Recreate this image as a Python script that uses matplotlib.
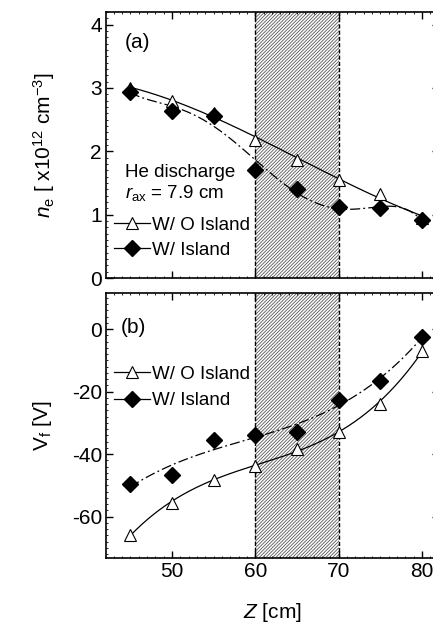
import matplotlib
matplotlib.use('Agg')
import matplotlib.pyplot as plt
import numpy as np

plt.rcParams['font.family'] = ['Liberation Sans', 'DejaVu Sans']
plt.rcParams['mathtext.fontset'] = 'custom'
plt.rcParams['mathtext.rm'] = 'Liberation Sans'
plt.rcParams['mathtext.it'] = 'Liberation Sans:italic'
plt.rcParams['hatch.linewidth'] = 0.6
plt.rcParams['axes.unicode_minus'] = False

# axial position [cm]
z = [45, 50, 55, 60, 65, 70, 75, 80]

# electron density [x10^12 cm^-3]
ne_wo_island = [3.0, 2.8, 2.61, 2.18, 1.87, 1.55, 1.33, 0.95]
ne_w_island = [2.94, 2.64, 2.55, 1.71, 1.40, 1.12, 1.10, 0.91]

# floating potential [V]
vf_wo_island = [-65.8, -55.6, -48.2, -43.8, -38.3, -32.8, -24.0, -6.9]
vf_w_island = [-49.5, -46.8, -35.6, -34.0, -33.0, -22.6, -16.5, -2.5]

island_region = (60, 70)

FS = 15


def fit_curve(x, y, deg):
    coef = np.polyfit(x, y, deg)
    xs = np.linspace(min(x), max(x), 200)
    return xs, np.polyval(coef, xs)


def style_axes(ax):
    ax.tick_params(which='major', direction='in', length=5, width=1,
                   top=True, right=True, labelsize=FS, pad=3)
    ax.tick_params(which='minor', direction='in', length=1.5, width=0.6,
                   top=True, right=True)
    ax.xaxis.set_minor_locator(matplotlib.ticker.MultipleLocator(1))
    for s in ax.spines.values():
        s.set_linewidth(1.2)
    ax.axvspan(*island_region, facecolor='white', edgecolor='0.35',
               hatch='//////////', linewidth=0, zorder=0)
    for xv in island_region:
        ax.axvline(xv, color='black', linestyle=(0, (3, 1.5)), linewidth=1, zorder=1)


fig = plt.figure(figsize=(4.33, 6.25), dpi=100)
ax1 = fig.add_axes([0.245, 0.555, 0.768, 0.426])
ax2 = fig.add_axes([0.245, 0.108, 0.768, 0.423])

# (a) density
style_axes(ax1)
xs, ys = fit_curve(z, ne_wo_island, 3)
ax1.plot(xs, ys, color='black', linewidth=0.9, zorder=2)
xs, ys = fit_curve(z, ne_w_island, 5)
ax1.plot(xs, ys, color='black', linewidth=0.9, linestyle=(0, (8, 2.5, 1.5, 2.5)), zorder=2)
ax1.plot(z, ne_wo_island, linestyle='none', marker='^', markersize=9,
         markerfacecolor='white', markeredgecolor='black', markeredgewidth=0.8, zorder=3)
ax1.plot(z, ne_w_island, linestyle='none', marker='D', markersize=8,
         color='black', zorder=3)
ax1.set_xlim(42.1, 82.0)
ax1.set_ylim(0, 4.2)
ax1.set_yticks([0, 1, 2, 3, 4])
ax1.set_xticks([50, 60, 70, 80])
ax1.tick_params(labelbottom=False)
ax1.yaxis.set_minor_locator(matplotlib.ticker.MultipleLocator(0.1))
ax1.set_ylabel(r'$n_{\mathrm{e}}$ [ x10$^{12}$ cm$^{-3}$]', fontsize=FS, labelpad=24)
ax1.text(0.055, 0.885, '(a)', transform=ax1.transAxes, fontsize=FS, va='center')
ax1.text(0.057, 0.395, 'He discharge', transform=ax1.transAxes, fontsize=13.5, va='center')
ax1.text(0.057, 0.318, r'$r_{\mathrm{ax}}$ = 7.9 cm', transform=ax1.transAxes, fontsize=13.5, va='center')
h1, = ax1.plot([], [], color='black', linewidth=0.9, marker='^', markersize=9,
               markerfacecolor='white', markeredgecolor='black', markeredgewidth=0.8)
h2, = ax1.plot([], [], color='black', linewidth=0.9, marker='D', markersize=8)
ax1.legend([h1, h2], ['W/ O Island', 'W/ Island'], loc='upper left',
           bbox_to_anchor=(0.025, 0.23), frameon=False, fontsize=13.5,
           handlelength=1.9, handletextpad=0.1, labelspacing=0.4, borderpad=0,
           borderaxespad=0)

# (b) floating potential
style_axes(ax2)
xs, ys = fit_curve(z, vf_wo_island, 3)
ax2.plot(xs, ys, color='black', linewidth=0.9, zorder=2)
xs, ys = fit_curve(z, vf_w_island, 3)
ax2.plot(xs, ys, color='black', linewidth=0.9, linestyle=(0, (8, 2.5, 1.5, 2.5)), zorder=2)
ax2.plot(z, vf_wo_island, linestyle='none', marker='^', markersize=9,
         markerfacecolor='white', markeredgecolor='black', markeredgewidth=0.8, zorder=3)
ax2.plot(z, vf_w_island, linestyle='none', marker='D', markersize=8,
         color='black', zorder=3)
ax2.set_xlim(42.1, 82.0)
ax2.set_ylim(-73.1, 11.5)
ax2.set_yticks([-60, -40, -20, 0])
ax2.set_xticks([50, 60, 70, 80])
ax2.yaxis.set_minor_locator(matplotlib.ticker.MultipleLocator(2))
ax2.set_ylabel(r'V$_{\mathrm{f}}$ [V]', fontsize=FS, labelpad=13)
ax2.set_xlabel(r'$Z$ [cm]', fontsize=FS, labelpad=15)
ax2.text(0.045, 0.87, '(b)', transform=ax2.transAxes, fontsize=FS, va='center')
ax2.legend([h1, h2], ['W/ O Island', 'W/ Island'], loc='upper left',
           bbox_to_anchor=(0.025, 0.725), frameon=False, fontsize=13.5,
           handlelength=1.9, handletextpad=0.1, labelspacing=0.5, borderpad=0,
           borderaxespad=0)

fig.savefig('out.png', dpi=100)
